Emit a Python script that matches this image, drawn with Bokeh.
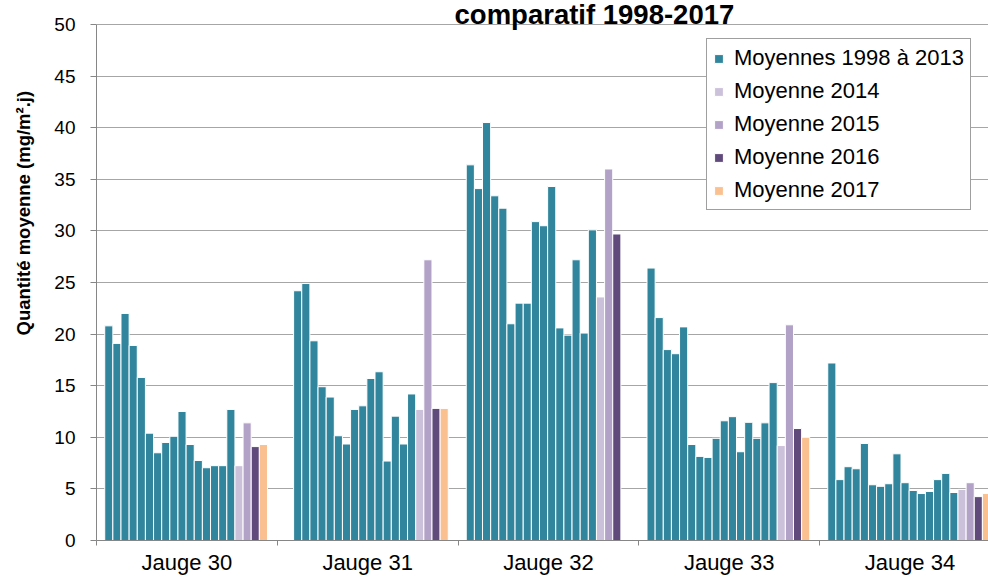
import math
from bokeh.plotting import figure
from bokeh.models import (Range1d, FixedTicker, Label, Legend, LegendItem, Title)
from bokeh.embed import file_html
from bokeh.resources import INLINE

# ---------------- data ----------------
jauges = ["Jauge 30", "Jauge 31", "Jauge 32", "Jauge 33", "Jauge 34"]
years_hist = list(range(1998, 2014))

hist_j30 = [20.8, 19.1, 22.0, 18.9, 15.8, 10.4, 8.5, 9.5, 10.1, 12.5, 9.3, 7.75, 7.05, 7.25, 7.25, 12.7]
hist_j31 = [None, 24.2, 24.9, 19.35, 14.9, 13.9, 10.15, 9.35, 12.7, 13.05, 15.7, 16.35, 7.7, 12.05, 9.35, 14.2]
hist_j32 = [36.4, 34.1, 40.5, 33.4, 32.2, 21.0, 23.0, 23.0, 30.9, 30.5, 34.3, 20.6, 19.9, 27.2, 20.1, 30.1]
hist_j33 = [26.4, 21.6, 18.5, 18.1, 20.7, 9.3, 8.15, 8.05, 9.9, 11.6, 12.0, 8.6, 11.45, 9.9, 11.4, 15.3]
hist_j34 = [17.2, 5.9, 7.15, 6.95, 9.4, 5.4, 5.25, 5.5, 8.4, 5.6, 4.85, 4.55, 4.75, 5.9, 6.5, 4.65]

moy_2014 = [7.25, 12.7, 23.6, 9.2, 4.95]
moy_2015 = [11.4, 27.2, 36.0, 20.9, 5.6]
moy_2016 = [9.1, 12.8, 29.7, 10.85, 4.25]
moy_2017 = [9.3, 12.8, None, 10.0, 4.55]

y_ticks = [0, 5, 10, 15, 20, 25, 30, 35, 40, 45, 50]

series_labels = ["Moyennes 1998 à 2013", "Moyenne 2014", "Moyenne 2015",
                 "Moyenne 2016", "Moyenne 2017"]
series_colors = ["#31859C", "#CCC1DA", "#B3A2C7", "#604A7B", "#FAC090"]

# ---------------- layout constants ----------------
G = 22.21          # group stride in bar slots
OFF = 1.51         # offset of first bar centre in a group
X_END = 109.6      # visible x extent (slots)
Y_TOP = 52.3256    # frame reaches the top of the picture (title is cropped)

p = figure(width=988, height=577, output_backend="svg", toolbar_location=None,
           x_range=Range1d(0, X_END), y_range=Range1d(0, Y_TOP),
           min_border_left=96, min_border_right=0, min_border_top=0,
           min_border_bottom=37, background_fill_color="white",
           border_fill_color="white")
p.outline_line_color = None

hist_all = [hist_j30, hist_j31, hist_j32, hist_j33, hist_j34]
recent = [moy_2014, moy_2015, moy_2016, moy_2017]

renderers = []
xs, tops = [], []
for gi, vals in enumerate(hist_all):
    for j, v in enumerate(vals):
        if v is not None:
            xs.append(gi * G + OFF + j)
            tops.append(v)
r = p.vbar(x=xs, top=tops, bottom=0, width=1.0, fill_color=series_colors[0],
           line_color="white", line_width=1)
renderers.append(r)
for k, ser in enumerate(recent):
    xs, tops = [], []
    for gi, v in enumerate(ser):
        if v is not None:
            xs.append(gi * G + OFF + len(years_hist) + k)
            tops.append(v)
    r = p.vbar(x=xs, top=tops, bottom=0, width=1.0, fill_color=series_colors[k + 1],
               line_color="white", line_width=1)
    renderers.append(r)

# grid
p.xgrid.grid_line_color = None
p.ygrid.grid_line_color = "#a6a6a6"
p.ygrid.grid_line_width = 1
p.ygrid.ticker = FixedTicker(ticks=y_ticks)

# y axis
ya = p.yaxis[0]
ya.ticker = FixedTicker(ticks=y_ticks)
ya.bounds = (0, 50)
ya.axis_line_color = "#868686"
ya.major_tick_line_color = "#868686"
ya.major_tick_out = 6
ya.major_tick_in = 0
ya.minor_tick_line_color = None
ya.major_label_standoff = 15
ya.major_label_text_font = "Liberation Sans"
ya.major_label_text_font_size = "19px"
ya.major_label_text_color = "black"
# invisible spacer label so that the title sits further left
ya.axis_label = " "
ya.axis_label_text_font_size = "1px"
ya.axis_label_standoff = 6

# x axis: labels at group centres, small ticks at group boundaries
centers = [i * G + G / 2 for i in range(len(jauges))]
bounds_x = [i * G for i in range(len(jauges) + 1)]
xa = p.xaxis[0]
xa.ticker = FixedTicker(ticks=centers, minor_ticks=bounds_x)
xa.major_label_overrides = {c: n for c, n in zip(centers, jauges)}
xa.axis_line_color = "#868686"
xa.major_tick_line_color = None
xa.major_tick_out = 0
xa.major_tick_in = 0
xa.minor_tick_line_color = "#868686"
xa.minor_tick_out = 5
xa.minor_tick_in = 0
xa.major_label_standoff = 4
xa.major_label_text_font = "Liberation Sans"
xa.major_label_text_font_size = "22px"
xa.major_label_text_color = "black"

# y axis title (placed above the frame centre, as in the reference)
ytitle = Title(text="Quantité moyenne (mg/m².j)", align="left", offset=205,
               text_font="Liberation Sans", text_font_style="bold",
               text_font_size="18.5px", text_color="black", standoff=16)
p.add_layout(ytitle, "left")

# chart title (near the top edge, as in the reference)
p.add_layout(Label(x=61.18, y=51.0, text="comparatif 1998-2017",
                   text_align="center", text_baseline="alphabetic",
                   text_font="Liberation Sans", text_font_style="bold",
                   text_font_size="27.5px", text_color="black"))

legend = Legend(items=[LegendItem(label=series_labels[k], renderers=[renderers[k]])
                       for k in range(5)],
                location=(610, 330), orientation="vertical")
legend.label_text_font = "Liberation Sans"
legend.label_text_font_size = "22px"
legend.label_text_color = "black"
legend.glyph_width = 11
legend.glyph_height = 11
legend.label_standoff = 10
legend.label_height = 25
legend.spacing = 7
legend.padding = 6
legend.margin = 0
legend.border_line_color = "#404040"
legend.border_line_width = 1
legend.background_fill_color = "white"
legend.background_fill_alpha = 1.0
p.add_layout(legend)

open("out.html", "w").write(file_html(p, INLINE))
